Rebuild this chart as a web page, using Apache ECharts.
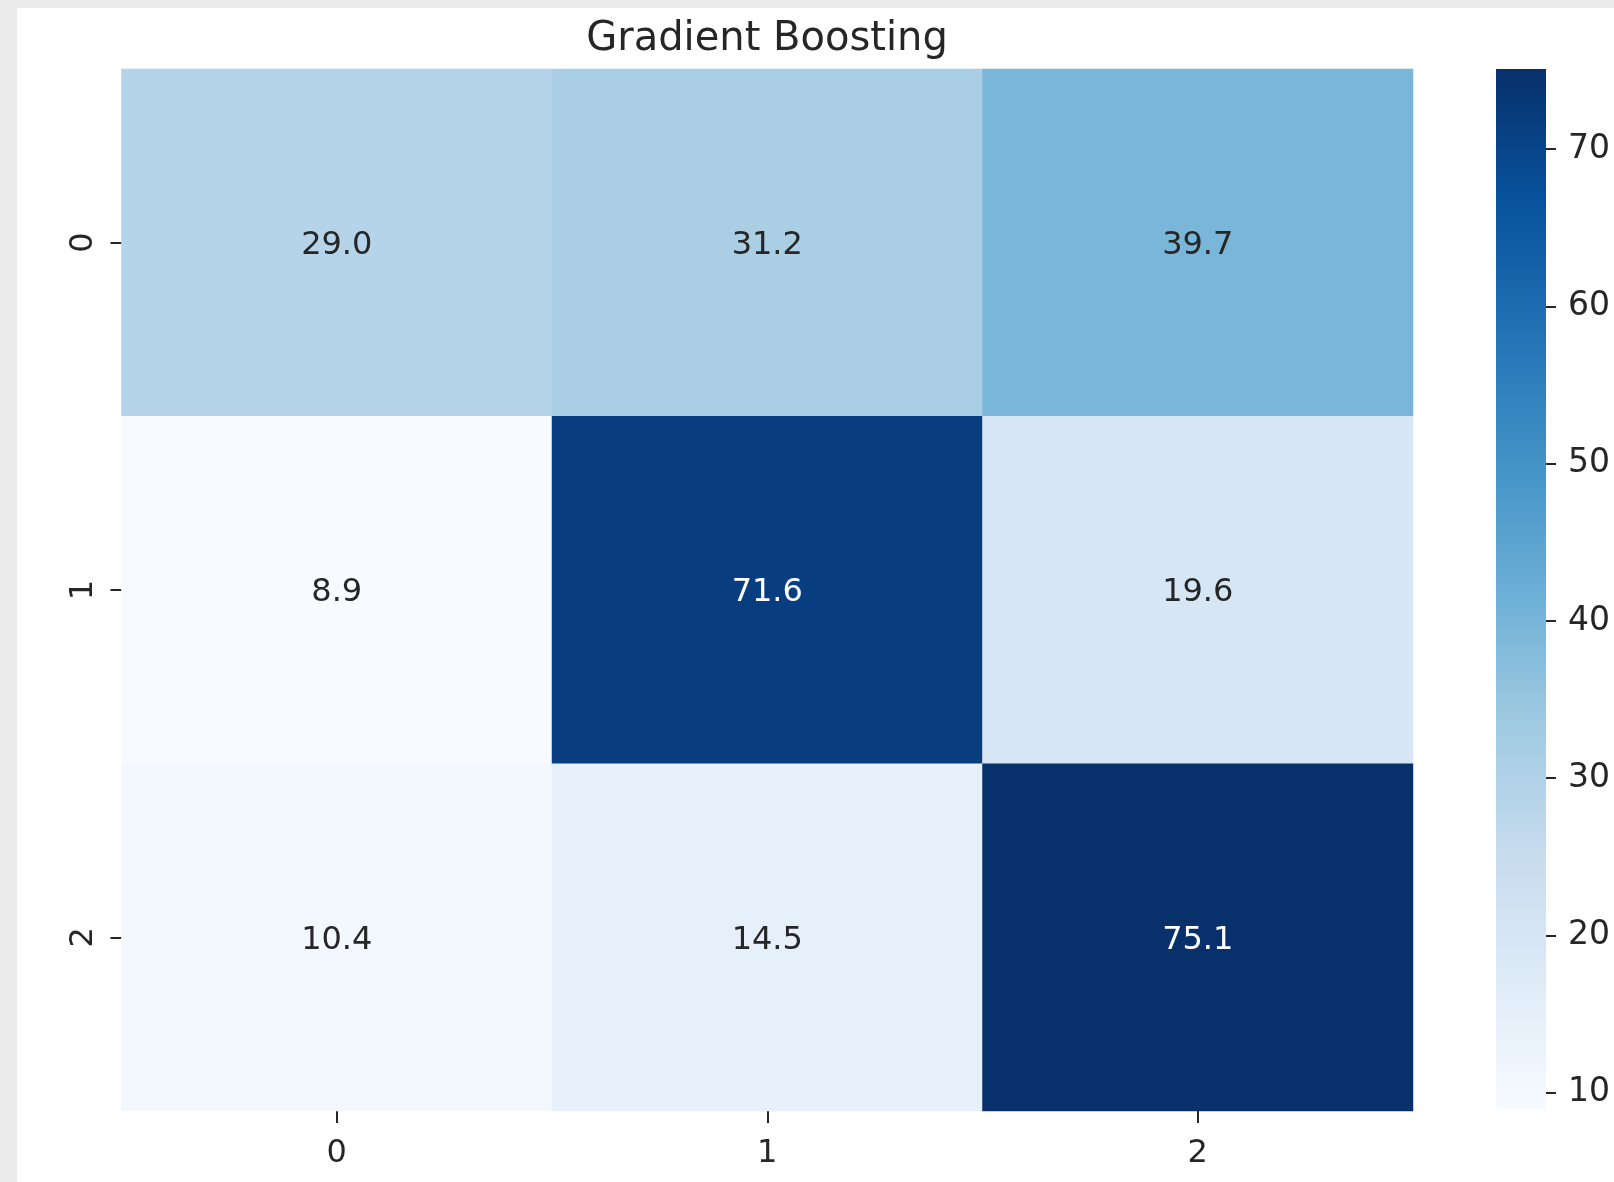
<!DOCTYPE html>
<html>
<head>
<meta charset="utf-8">
<script src="https://cdn.jsdelivr.net/npm/echarts@6/dist/echarts.min.js"></script>
<style>
  html, body { margin: 0; padding: 0; background: #ececec; width: 1614px; height: 1182px; overflow: hidden; }
  #chart { position: absolute; left: 17px; top: 8px; width: 1597px; height: 1174px; background: #ffffff; }
</style>
</head>
<body>
<div id="chart"></div>
<script>
// Confusion-matrix style heatmap (row-normalised percentages)
const titleText = 'Gradient Boosting';
const xCategories = ['0', '1', '2'];
const yCategories = ['0', '1', '2'];
const row0 = [29.0, 31.2, 39.7];
const row1 = [8.9, 71.6, 19.6];
const row2 = [10.4, 14.5, 75.1];
const colorbarTicks = [10, 20, 30, 40, 50, 60, 70];

// matplotlib "Blues" colormap control points
const blues = ['#f7fbff', '#deebf7', '#c6dbef', '#9ecae1', '#6baed6', '#4292c6', '#2171b5', '#08519c', '#08306b'];

const rows = [row0, row1, row2];
const allValues = rows.flat();
const vmin = Math.min(...allValues);
const vmax = Math.max(...allValues);

const FONT = 'DejaVu Sans';
const DARK = '#262626';

const heatData = [];
rows.forEach((row, r) => {
  row.forEach((v, c) => {
    const t = (v - vmin) / (vmax - vmin);
    heatData.push({
      value: [c, r, v],
      label: { color: t > 0.6 ? '#ffffff' : DARK }
    });
  });
});

const chart = echarts.init(document.getElementById('chart'), null, { renderer: 'canvas' });

const gridHeat = { left: 104.5, top: 61, right: 201, bottom: 71 };
const gridBar = { left: 1479, top: 61, width: 50, bottom: 72 };

chart.setOption({
  animation: false,
  backgroundColor: '#ffffff',
  title: {
    text: titleText,
    left: 750,
    top: 12,
    padding: 0,
    textAlign: 'center',
    textStyle: { fontFamily: FONT, fontSize: 40, fontWeight: 'normal', color: DARK }
  },
  grid: [
    Object.assign({ containLabel: false }, gridHeat),
    Object.assign({ containLabel: false }, gridBar)
  ],
  xAxis: [
    {
      type: 'category', gridIndex: 0, data: xCategories, position: 'bottom',
      axisLine: { show: false },
      axisTick: { show: true, alignWithLabel: true, length: 12, lineStyle: { color: DARK, width: 2 } },
      axisLabel: { fontFamily: FONT, fontSize: 32, color: DARK, margin: 27 },
      splitLine: { show: false }
    },
    {
      type: 'category', gridIndex: 1, data: ['cb'], show: false
    }
  ],
  yAxis: [
    {
      type: 'category', gridIndex: 0, data: yCategories, inverse: true,
      axisLine: { show: false },
      axisTick: { show: true, alignWithLabel: true, length: 11, lineStyle: { color: DARK, width: 2 } },
      axisLabel: { fontFamily: FONT, fontSize: 32, color: DARK, margin: 22, rotate: 90 },
      splitLine: { show: false }
    },
    {
      type: 'value', gridIndex: 1, min: vmin, max: vmax, position: 'right',
      axisLine: { show: false },
      axisTick: { show: true, length: 10, customValues: colorbarTicks, lineStyle: { color: DARK, width: 2 } },
      axisLabel: { fontFamily: FONT, fontSize: 33, color: DARK, margin: 22, customValues: colorbarTicks },
      splitLine: { show: false }
    }
  ],
  visualMap: {
    show: false,
    type: 'continuous',
    seriesIndex: 0,
    min: vmin,
    max: vmax,
    dimension: 2,
    inRange: { color: blues }
  },
  series: [
    {
      type: 'heatmap',
      xAxisIndex: 0,
      yAxisIndex: 0,
      data: heatData,
      label: {
        show: true,
        fontFamily: FONT,
        fontSize: 32,
        offset: [0, 3],
        formatter: p => p.value[2].toFixed(1)
      },
      itemStyle: { borderWidth: 0 },
      emphasis: { disabled: true }
    },
    {
      // colour bar: one rectangle spanning [vmin, vmax] on the value axis
      type: 'custom',
      xAxisIndex: 1,
      yAxisIndex: 1,
      data: [[0, vmin, vmax]],
      silent: true,
      renderItem: function (params, api) {
        const lo = api.coord([0, api.value(1)]);
        const hi = api.coord([0, api.value(2)]);
        const sz = api.size([1, 0]);
        const stops = blues.map((c, i) => ({ offset: 1 - i / (blues.length - 1), color: c }));
        return {
          type: 'rect',
          shape: { x: lo[0] - sz[0] / 2, y: hi[1], width: sz[0], height: lo[1] - hi[1] },
          style: { fill: new echarts.graphic.LinearGradient(0, 0, 0, 1, stops) }
        };
      }
    }
  ]
});
</script>
</body>
</html>
